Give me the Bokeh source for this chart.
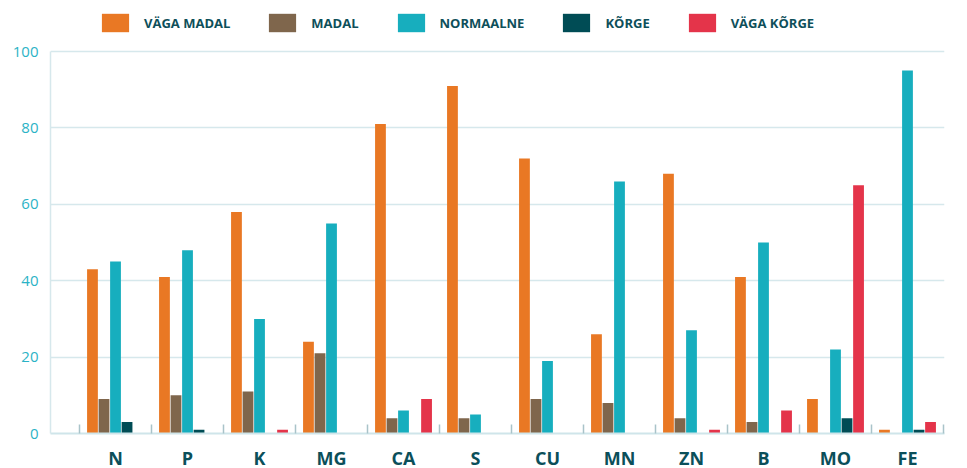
from bokeh.plotting import figure
from bokeh.models import FixedTicker, ColumnDataSource, Legend, LegendItem
from bokeh.embed import file_html
from bokeh.resources import INLINE

categories = ["N", "P", "K", "MG", "CA", "S", "CU", "MN", "ZN", "B", "MO", "FE"]
series_names = ["VÄGA MADAL", "MADAL", "NORMAALNE", "KÕRGE", "VÄGA KÕRGE"]
vaga_madal = [43, 41, 58, 24, 81, 91, 72, 26, 68, 41, 9, 1]
madal = [9, 10, 11, 21, 4, 4, 9, 8, 4, 3, 0, 0]
normaalne = [45, 48, 30, 55, 6, 5, 19, 66, 27, 50, 22, 95]
korge = [3, 1, 0, 0, 0, 0, 0, 0, 0, 0, 4, 1]
vaga_korge = [0, 0, 1, 0, 9, 0, 0, 0, 1, 6, 65, 3]
series_values = [vaga_madal, madal, normaalne, korge, vaga_korge]
colors = ["#e97824", "#7f664c", "#17aebe", "#004c55", "#e4344a"]
y_ticks = [0, 20, 40, 60, 80, 100]

n = len(categories)
slot = 0.16
bar_w = 0.15

# frame includes the legend band above the 0..100 axis
plot_h = 382
top_band = 51
y_max = 100 * (plot_h + top_band) / plot_h

p = figure(frame_width=894, frame_height=plot_h + top_band, output_backend="svg",
           toolbar_location=None,
           x_range=(-0.403, 12.014), y_range=(0, y_max),
           min_border_left=50, min_border_right=14, min_border_top=0, min_border_bottom=0)
p.outline_line_color = None
p.background_fill_color = "white"

centers = [i + 0.5 for i in range(n)]
items = []
for j, (name, vals, col) in enumerate(zip(series_names, series_values, colors)):
    xs = [c + (j - 2) * slot for c in centers]
    src = ColumnDataSource(dict(x=xs, top=vals))
    r = p.vbar(x="x", top="top", width=bar_w, source=src, color=col, line_color=None)
    items.append(LegendItem(label=name, renderers=[r]))

# x axis
p.xaxis.ticker = FixedTicker(ticks=centers, minor_ticks=list(range(n + 1)))
p.xaxis.major_label_overrides = {c: lab for c, lab in zip(centers, categories)}
p.xaxis.major_tick_line_color = None
p.xaxis.major_tick_in = 0
p.xaxis.major_tick_out = 0
p.xaxis.minor_tick_in = 9
p.xaxis.minor_tick_out = 0
p.xaxis.minor_tick_line_color = "#a9c3c9"
p.xaxis.minor_tick_line_width = 1.5
p.xaxis.axis_line_color = "#cfe5ea"
p.xaxis.axis_line_width = 2
p.xaxis.major_label_text_font = "Open Sans"
p.xaxis.major_label_text_font_style = "bold"
p.xaxis.major_label_text_font_size = "18px"
p.xaxis.major_label_text_color = "#0b4f5a"
p.xaxis.major_label_standoff = 12

# y axis
p.yaxis.ticker = FixedTicker(ticks=y_ticks)
p.yaxis.bounds = (0, 100)
p.yaxis.major_tick_line_color = None
p.yaxis.major_tick_in = 0
p.yaxis.major_tick_out = 0
p.yaxis.minor_tick_line_color = None
p.yaxis.axis_line_color = "#d6e8ec"
p.yaxis.axis_line_width = 1.5
p.yaxis.major_label_text_font = "Open Sans"
p.yaxis.major_label_text_font_size = "15px"
p.yaxis.major_label_text_color = "#2bb3c6"
p.yaxis.major_label_standoff = 12

p.xgrid.grid_line_color = None
p.ygrid.grid_line_color = "#d6e8ec"
p.ygrid.grid_line_width = 1.5

leg = Legend(items=items, orientation="horizontal", location=(48, plot_h - 35 + 52),
             padding=0, margin=0, spacing=35, border_line_color=None,
             background_fill_alpha=0, glyph_width=34, glyph_height=23,
             label_standoff=12, label_text_font="Open Sans",
             label_text_font_style="bold", label_text_font_size="13px",
             label_text_color="#0e4f5a")
p.add_layout(leg, "center")

open("out.html", "w").write(file_html(p, INLINE))
